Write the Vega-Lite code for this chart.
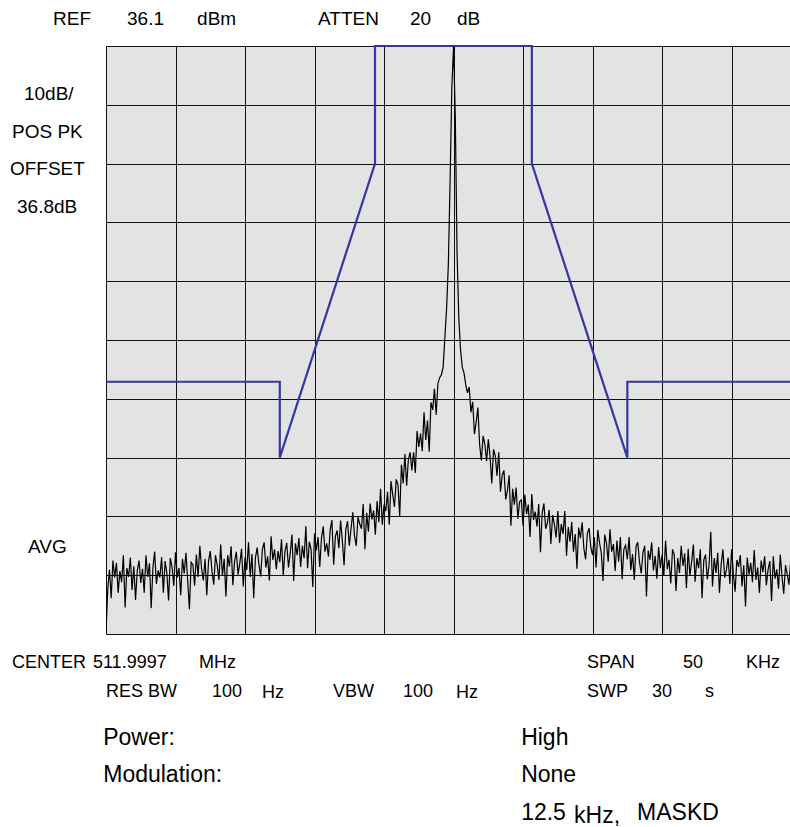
{
"$schema":"https://vega.github.io/schema/vega-lite/v6.json",
"width":684,"height":588,
"autosize":{"type":"none"},
"padding":{"left":106,"top":46,"right":0,"bottom":193},
"background":"white",
"config":{"view":{"fill":"#e3e3e3","stroke":null},"font":"Liberation Sans","axis":{"domain":false,"ticks":false,"labels":false,"grid":true,"gridColor":"#111111","gridOpacity":1,"gridWidth":1}},
"datasets":{
"trace":[
{"f":-25,"p":-63.9},{"f":-24.875,"p":-56.3},{"f":-24.75,"p":-53.0},{"f":-24.625,"p":-57.8},{"f":-24.5,"p":-51.4},{"f":-24.375,"p":-54.3},{"f":-24.25,"p":-51.8},{"f":-24.125,"p":-56.9},
{"f":-24,"p":-53.2},{"f":-23.875,"p":-55.1},{"f":-23.75,"p":-50.5},{"f":-23.625,"p":-59.4},{"f":-23.5,"p":-52.7},{"f":-23.375,"p":-54.2},{"f":-23.25,"p":-50.9},{"f":-23.125,"p":-56.4},
{"f":-23,"p":-52.4},{"f":-22.875,"p":-58.1},{"f":-22.75,"p":-53.1},{"f":-22.625,"p":-51.4},{"f":-22.5,"p":-55.2},{"f":-22.375,"p":-52.8},{"f":-22.25,"p":-56.9},{"f":-22.125,"p":-50.5},
{"f":-22,"p":-54.2},{"f":-21.875,"p":-51.9},{"f":-21.75,"p":-59.5},{"f":-21.625,"p":-52.6},{"f":-21.5,"p":-49.9},{"f":-21.375,"p":-55.4},{"f":-21.25,"p":-53.1},{"f":-21.125,"p":-54.3},
{"f":-21,"p":-50.8},{"f":-20.875,"p":-56.9},{"f":-20.75,"p":-51.5},{"f":-20.625,"p":-53.5},{"f":-20.5,"p":-58.2},{"f":-20.375,"p":-51.0},{"f":-20.25,"p":-52.5},{"f":-20.125,"p":-55.7},
{"f":-20,"p":-50.0},{"f":-19.875,"p":-54.3},{"f":-19.75,"p":-52.7},{"f":-19.625,"p":-57.3},{"f":-19.5,"p":-51.1},{"f":-19.375,"p":-53.6},{"f":-19.25,"p":-50.1},{"f":-19.125,"p":-54.8},
{"f":-19,"p":-59.7},{"f":-18.875,"p":-51.7},{"f":-18.75,"p":-52.1},{"f":-18.625,"p":-55.7},{"f":-18.5,"p":-50.4},{"f":-18.375,"p":-54.2},{"f":-18.25,"p":-48.9},{"f":-18.125,"p":-52.8},
{"f":-18,"p":-54.8},{"f":-17.875,"p":-51.1},{"f":-17.75,"p":-57.3},{"f":-17.625,"p":-51.5},{"f":-17.5,"p":-49.8},{"f":-17.375,"p":-53.3},{"f":-17.25,"p":-55.5},{"f":-17.125,"p":-50.5},
{"f":-17,"p":-52.2},{"f":-16.875,"p":-54.7},{"f":-16.75,"p":-48.7},{"f":-16.625,"p":-54.0},{"f":-16.5,"p":-51.1},{"f":-16.375,"p":-57.5},{"f":-16.25,"p":-50.5},{"f":-16.125,"p":-52.4},
{"f":-16,"p":-49.0},{"f":-15.875,"p":-55.6},{"f":-15.75,"p":-51.5},{"f":-15.625,"p":-49.9},{"f":-15.5,"p":-53.8},{"f":-15.375,"p":-51.9},{"f":-15.25,"p":-49.4},{"f":-15.125,"p":-55.8},
{"f":-15,"p":-50.9},{"f":-14.875,"p":-53.0},{"f":-14.75,"p":-48.3},{"f":-14.625,"p":-54.2},{"f":-14.5,"p":-50.3},{"f":-14.375,"p":-57.8},{"f":-14.25,"p":-50.9},{"f":-14.125,"p":-49.2},
{"f":-14,"p":-52.1},{"f":-13.875,"p":-54.1},{"f":-13.75,"p":-49.5},{"f":-13.625,"p":-48.3},{"f":-13.5,"p":-52.6},{"f":-13.375,"p":-50.7},{"f":-13.25,"p":-54.8},{"f":-13.125,"p":-47.3},
{"f":-13,"p":-51.3},{"f":-12.875,"p":-49.5},{"f":-12.75,"p":-52.9},{"f":-12.625,"p":-49.8},{"f":-12.5,"p":-51.7},{"f":-12.375,"p":-47.8},{"f":-12.25,"p":-54.0},{"f":-12.125,"p":-49.8},
{"f":-12,"p":-48.4},{"f":-11.875,"p":-52.6},{"f":-11.75,"p":-50.2},{"f":-11.625,"p":-47.0},{"f":-11.5,"p":-54.9},{"f":-11.375,"p":-48.5},{"f":-11.25,"p":-50.5},{"f":-11.125,"p":-47.6},
{"f":-11,"p":-52.5},{"f":-10.875,"p":-48.9},{"f":-10.75,"p":-51.0},{"f":-10.625,"p":-45.6},{"f":-10.5,"p":-52.7},{"f":-10.375,"p":-48.2},{"f":-10.25,"p":-49.5},{"f":-10.125,"p":-55.9},
{"f":-10,"p":-46.8},{"f":-9.875,"p":-49.7},{"f":-9.75,"p":-47.4},{"f":-9.625,"p":-52.5},{"f":-9.5,"p":-47.6},{"f":-9.375,"p":-45.6},{"f":-9.25,"p":-49.9},{"f":-9.125,"p":-48.5},
{"f":-9,"p":-50.7},{"f":-8.875,"p":-46.2},{"f":-8.75,"p":-44.5},{"f":-8.625,"p":-52.1},{"f":-8.5,"p":-47.3},{"f":-8.375,"p":-46.3},{"f":-8.25,"p":-49.3},{"f":-8.125,"p":-44.6},
{"f":-8,"p":-48.1},{"f":-7.875,"p":-52.2},{"f":-7.75,"p":-46.1},{"f":-7.625,"p":-44.7},{"f":-7.5,"p":-48.9},{"f":-7.375,"p":-46.0},{"f":-7.25,"p":-43.2},{"f":-7.125,"p":-47.2},
{"f":-7,"p":-48.9},{"f":-6.875,"p":-44.0},{"f":-6.75,"p":-45.2},{"f":-6.625,"p":-46.0},{"f":-6.5,"p":-41.8},{"f":-6.375,"p":-49.5},{"f":-6.25,"p":-43.3},{"f":-6.125,"p":-46.5},
{"f":-6,"p":-41.7},{"f":-5.875,"p":-44.4},{"f":-5.75,"p":-42.9},{"f":-5.625,"p":-47.0},{"f":-5.5,"p":-41.3},{"f":-5.375,"p":-44.9},{"f":-5.25,"p":-39.2},{"f":-5.125,"p":-45.3},
{"f":-5,"p":-41.9},{"f":-4.875,"p":-43.0},{"f":-4.75,"p":-39.7},{"f":-4.625,"p":-45.3},{"f":-4.5,"p":-37.9},{"f":-4.375,"p":-40.2},{"f":-4.25,"p":-42.3},{"f":-4.125,"p":-37.6},
{"f":-4,"p":-38.5},{"f":-3.875,"p":-43.9},{"f":-3.75,"p":-35.1},{"f":-3.625,"p":-38.3},{"f":-3.5,"p":-33.3},{"f":-3.375,"p":-38.7},{"f":-3.25,"p":-34.2},{"f":-3.125,"p":-33.0},
{"f":-3,"p":-36.1},{"f":-2.875,"p":-33.0},{"f":-2.75,"p":-36.5},{"f":-2.625,"p":-29.4},{"f":-2.5,"p":-32.1},{"f":-2.375,"p":-29.8},{"f":-2.25,"p":-32.8},{"f":-2.125,"p":-26.2},
{"f":-2,"p":-30.9},{"f":-1.875,"p":-27.6},{"f":-1.75,"p":-32.9},{"f":-1.625,"p":-24.5},{"f":-1.5,"p":-25.8},{"f":-1.375,"p":-22.2},{"f":-1.25,"p":-26.6},{"f":-1.125,"p":-21.3},
{"f":-1,"p":-20.3},{"f":-0.875,"p":-19.8},{"f":-0.75,"p":-18.5},{"f":-0.625,"p":-13.5},{"f":-0.5,"p":-8.5},{"f":-0.375,"p":-1.0},{"f":-0.25,"p":13.0},{"f":-0.125,"p":29.0},
{"f":0,"p":36.1},{"f":0.125,"p":24.0},{"f":0.25,"p":1.0},{"f":0.375,"p":-10.0},{"f":0.5,"p":-15.5},{"f":0.625,"p":-18.5},{"f":0.75,"p":-19.5},{"f":0.875,"p":-21.5},
{"f":1,"p":-22.9},{"f":1.125,"p":-21.9},{"f":1.25,"p":-26.2},{"f":1.375,"p":-24.4},{"f":1.5,"p":-29.9},{"f":1.625,"p":-27.9},{"f":1.75,"p":-25.4},{"f":1.875,"p":-31.7},
{"f":2,"p":-34.4},{"f":2.125,"p":-30.2},{"f":2.25,"p":-31.6},{"f":2.375,"p":-34.5},{"f":2.5,"p":-30.8},{"f":2.625,"p":-33.7},{"f":2.75,"p":-38.3},{"f":2.875,"p":-32.5},
{"f":3,"p":-33.6},{"f":3.125,"p":-37.0},{"f":3.25,"p":-33.0},{"f":3.375,"p":-39.7},{"f":3.5,"p":-36.9},{"f":3.625,"p":-36.1},{"f":3.75,"p":-41.0},{"f":3.875,"p":-39.5},
{"f":4,"p":-36.9},{"f":4.125,"p":-45.5},{"f":4.25,"p":-39.2},{"f":4.375,"p":-41.9},{"f":4.5,"p":-39.0},{"f":4.625,"p":-44.3},{"f":4.75,"p":-41.4},{"f":4.875,"p":-41.1},
{"f":5,"p":-45.5},{"f":5.125,"p":-40.2},{"f":5.25,"p":-43.5},{"f":5.375,"p":-41.9},{"f":5.5,"p":-47.4},{"f":5.625,"p":-40.1},{"f":5.75,"p":-44.5},{"f":5.875,"p":-43.1},
{"f":6,"p":-45.6},{"f":6.125,"p":-41.8},{"f":6.25,"p":-50.0},{"f":6.375,"p":-43.3},{"f":6.5,"p":-41.7},{"f":6.625,"p":-46.0},{"f":6.75,"p":-45.0},{"f":6.875,"p":-42.8},
{"f":7,"p":-48.6},{"f":7.125,"p":-43.7},{"f":7.25,"p":-45.2},{"f":7.375,"p":-47.5},{"f":7.5,"p":-43.0},{"f":7.625,"p":-48.4},{"f":7.75,"p":-45.2},{"f":7.875,"p":-46.9},
{"f":8,"p":-43.0},{"f":8.125,"p":-50.6},{"f":8.25,"p":-45.7},{"f":8.375,"p":-48.2},{"f":8.5,"p":-44.8},{"f":8.625,"p":-49.9},{"f":8.75,"p":-46.9},{"f":8.875,"p":-52.8},
{"f":9,"p":-45.8},{"f":9.125,"p":-47.6},{"f":9.25,"p":-44.9},{"f":9.375,"p":-49.4},{"f":9.5,"p":-51.2},{"f":9.625,"p":-46.8},{"f":9.75,"p":-45.9},{"f":9.875,"p":-49.2},
{"f":10,"p":-50.5},{"f":10.125,"p":-47.4},{"f":10.25,"p":-52.6},{"f":10.375,"p":-46.2},{"f":10.5,"p":-48.4},{"f":10.625,"p":-50.1},{"f":10.75,"p":-54.9},{"f":10.875,"p":-47.0},
{"f":11,"p":-48.5},{"f":11.125,"p":-51.6},{"f":11.25,"p":-46.1},{"f":11.375,"p":-49.9},{"f":11.5,"p":-48.6},{"f":11.625,"p":-53.2},{"f":11.75,"p":-48.0},{"f":11.875,"p":-51.6},
{"f":12,"p":-47.4},{"f":12.125,"p":-54.6},{"f":12.25,"p":-49.5},{"f":12.375,"p":-48.8},{"f":12.5,"p":-51.2},{"f":12.625,"p":-47.4},{"f":12.75,"p":-53.0},{"f":12.875,"p":-50.3},
{"f":13,"p":-54.7},{"f":13.125,"p":-49.0},{"f":13.25,"p":-48.3},{"f":13.375,"p":-51.7},{"f":13.5,"p":-53.6},{"f":13.625,"p":-50.0},{"f":13.75,"p":-48.9},{"f":13.875,"p":-57.5},
{"f":14,"p":-49.7},{"f":14.125,"p":-51.3},{"f":14.25,"p":-48.3},{"f":14.375,"p":-53.1},{"f":14.5,"p":-50.6},{"f":14.625,"p":-54.5},{"f":14.75,"p":-49.1},{"f":14.875,"p":-52.7},
{"f":15,"p":-50.4},{"f":15.125,"p":-54.0},{"f":15.25,"p":-48.0},{"f":15.375,"p":-52.9},{"f":15.5,"p":-51.3},{"f":15.625,"p":-55.3},{"f":15.75,"p":-49.5},{"f":15.875,"p":-50.4},
{"f":16,"p":-56.6},{"f":16.125,"p":-51.0},{"f":16.25,"p":-53.5},{"f":16.375,"p":-48.9},{"f":16.5,"p":-52.3},{"f":16.625,"p":-50.2},{"f":16.75,"p":-56.1},{"f":16.875,"p":-49.4},
{"f":17,"p":-54.0},{"f":17.125,"p":-51.6},{"f":17.25,"p":-48.7},{"f":17.375,"p":-55.0},{"f":17.5,"p":-51.0},{"f":17.625,"p":-52.7},{"f":17.75,"p":-49.5},{"f":17.875,"p":-57.8},
{"f":18,"p":-51.3},{"f":18.125,"p":-50.4},{"f":18.25,"p":-54.6},{"f":18.375,"p":-52.3},{"f":18.5,"p":-46.5},{"f":18.625,"p":-55.8},{"f":18.75,"p":-51.0},{"f":18.875,"p":-53.5},
{"f":19,"p":-50.1},{"f":19.125,"p":-56.9},{"f":19.25,"p":-52.0},{"f":19.375,"p":-49.5},{"f":19.5,"p":-54.3},{"f":19.625,"p":-53.0},{"f":19.75,"p":-50.9},{"f":19.875,"p":-55.4},
{"f":20,"p":-49.5},{"f":20.125,"p":-53.7},{"f":20.25,"p":-56.7},{"f":20.375,"p":-51.3},{"f":20.5,"p":-52.5},{"f":20.625,"p":-50.5},{"f":20.75,"p":-55.8},{"f":20.875,"p":-52.2},
{"f":21,"p":-59.2},{"f":21.125,"p":-50.9},{"f":21.25,"p":-53.8},{"f":21.375,"p":-51.8},{"f":21.5,"p":-55.1},{"f":21.625,"p":-49.6},{"f":21.75,"p":-54.7},{"f":21.875,"p":-52.6},
{"f":22,"p":-56.9},{"f":22.125,"p":-51.4},{"f":22.25,"p":-53.4},{"f":22.375,"p":-50.7},{"f":22.5,"p":-55.6},{"f":22.625,"p":-52.9},{"f":22.75,"p":-51.5},{"f":22.875,"p":-58.3},
{"f":23,"p":-50.7},{"f":23.125,"p":-54.5},{"f":23.25,"p":-52.9},{"f":23.375,"p":-56.2},{"f":23.5,"p":-50.4},{"f":23.625,"p":-54.1},{"f":23.75,"p":-57.1},{"f":23.875,"p":-52.2},
{"f":24,"p":-53.7},{"f":24.125,"p":-55.5},{"f":24.25,"p":-51.4},{"f":24.375,"p":-58.9}
],
"mask":[
{"f":-25,"p":-21.0,"o":0},{"f":-12.5,"p":-21.0,"o":1},{"f":-12.5,"p":-33.9,"o":2},{"f":-5.65,"p":16.1,"o":3},{"f":-5.65,"p":36.1,"o":4},{"f":5.63,"p":36.1,"o":5},{"f":5.63,"p":16.1,"o":6},{"f":12.5,"p":-33.9,"o":7},{"f":12.5,"p":-21.0,"o":8},{"f":24.2,"p":-21.0,"o":9}
],
"lblA":[
{"t":"REF","f":-28.81,"p":39.7},{"t":"36.1","f":-23.49,"p":39.7},{"t":"dBm","f":-18.45,"p":39.7},{"t":"ATTEN","f":-9.75,"p":39.7},{"t":"20","f":-3.13,"p":39.7},{"t":"dB","f":0.25,"p":39.7},
{"t":"10dB/","f":-30.9,"p":26.92},{"t":"POS PK","f":-31.76,"p":20.4},{"t":"OFFSET","f":-31.91,"p":14.16},{"t":"36.8dB","f":-31.4,"p":7.65},{"t":"AVG","f":-30.61,"p":-50.18}
],
"lblB":[
{"t":"CENTER","f":-31.76,"p":-69.73},{"t":"511.9997","f":-25.94,"p":-69.73},{"t":"MHz","f":-18.31,"p":-69.73},{"t":"SPAN","f":9.6,"p":-69.73},{"t":"50","f":16.51,"p":-69.73},{"t":"KHz","f":21.04,"p":-69.73},
{"t":"RES BW","f":-25.0,"p":-74.56},{"t":"100","f":-17.37,"p":-74.56},{"t":"Hz","f":-13.78,"p":-74.83},{"t":"VBW","f":-8.67,"p":-74.56},{"t":"100","f":-3.63,"p":-74.56},{"t":"Hz","f":0.18,"p":-74.83},{"t":"SWP","f":9.6,"p":-74.56},{"t":"30","f":14.28,"p":-74.56},{"t":"s","f":18.09,"p":-74.56}
],
"lblC":[
{"t":"Power:","f":-25.2,"p":-82.78},{"t":"High","f":4.86,"p":-82.78},{"t":"Modulation:","f":-25.2,"p":-89.02},{"t":"None","f":4.86,"p":-89.02},{"t":"12.5","f":4.86,"p":-95.53},{"t":"kHz,","f":8.67,"p":-96.04},{"t":"MASKD","f":13.2,"p":-95.53}
]
},
"encoding":{
"x":{"field":"f","type":"quantitative","scale":{"domain":[-25,24.2],"nice":false,"zero":false},"axis":{"values":[-25,-20,-15,-10,-5,0,5,10,15,20],"title":null}},
"y":{"field":"p","type":"quantitative","scale":{"domain":[-63.9,36.1],"nice":false,"zero":false},"axis":{"values":[36.1,26.1,16.1,6.1,-3.9,-13.9,-23.9,-33.9,-43.9,-53.9,-63.9],"title":null}}
},
"layer":[
{"data":{"name":"mask"},"mark":{"type":"line","color":"#3535a5","strokeWidth":2.2},"encoding":{"order":{"field":"o","type":"quantitative"}}},
{"data":{"name":"trace"},"mark":{"type":"line","color":"#000000","strokeWidth":1.2,"clip":true},"encoding":{}},
{"data":{"name":"lblA"},"mark":{"type":"text","align":"left","baseline":"alphabetic","fontSize":19,"font":"Liberation Sans","color":"#000000"},"encoding":{"text":{"field":"t","type":"nominal"}}},
{"data":{"name":"lblB"},"mark":{"type":"text","align":"left","baseline":"alphabetic","fontSize":18,"font":"Liberation Sans","color":"#000000"},"encoding":{"text":{"field":"t","type":"nominal"}}},
{"data":{"name":"lblC"},"mark":{"type":"text","align":"left","baseline":"alphabetic","fontSize":23,"font":"Liberation Sans","color":"#000000"},"encoding":{"text":{"field":"t","type":"nominal"}}}
]
}
